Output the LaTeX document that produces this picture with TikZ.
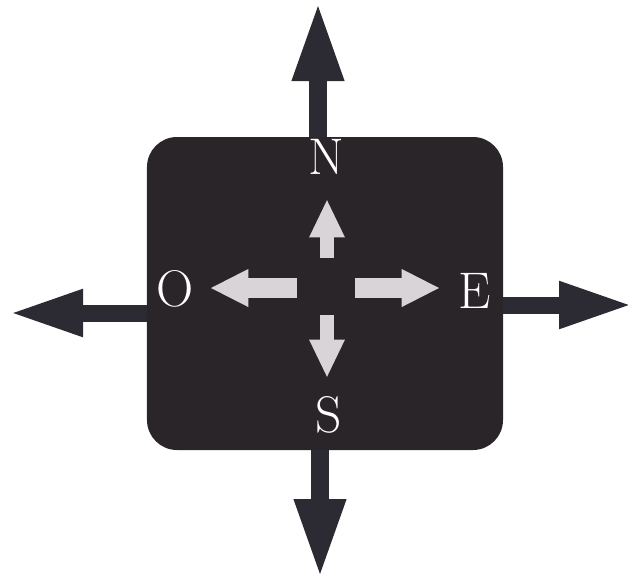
\documentclass[tikz,border=0pt]{standalone}
\usetikzlibrary{arrows.meta}
\definecolor{boxdark}{HTML}{2A2529}
\definecolor{arrowdark}{HTML}{2C2B33}
\definecolor{palegrey}{HTML}{D8D4D8}
\tikzset{
  dial/.style = {rectangle, fill=boxdark, rounded corners=0.9cm,
    minimum width=10.68cm, minimum height=9.39cm, inner sep=0pt},
  letter/.style = {text=white, font=\fontsize{44}{44}\selectfont, inner sep=0pt},
  outvert/.style = {arrowdark, line width=0.54cm, -{Triangle[length=2.4cm, width=1.41cm]}},
  outhoriz/.style = {arrowdark, line width=0.51cm, -{Triangle[length=2.25cm, width=1.28cm]}},
  invert/.style = {palegrey, line width=0.4cm, -{Triangle[length=1.15cm, width=0.98cm]}},
  inhoriz/.style = {palegrey, line width=0.6cm, -{Triangle[length=1.15cm, width=1.05cm]}}
}
\begin{document}
\begin{tikzpicture}[x=0.03cm, y=-0.03cm]
\useasboundingbox (0,0) rectangle (628,577);

% dark square
\node[dial] (dial) at (325,293.5) {};

% cardinal letters
\node[letter] (north) at (326,157) {N};
\node[letter] (south) at (329,415) {S};
\node[letter] (west) at (175,289) {O};
\node[letter] (east) at (475,291) {E};

% outer arrows
\coordinate (nTip) at (318,1);
\coordinate (sTip) at (320,579);
\coordinate (wTip) at (8,313);
\coordinate (eTip) at (634,305);
\draw[outvert] (dial.north -| nTip) -- (nTip);
\draw[outvert] (dial.south -| sTip) -- (sTip);
\draw[outhoriz] (dial.west |- wTip) -- (wTip);
\draw[outhoriz] (dial.east |- eTip) -- (eTip);

% inner arrows
\coordinate (upTail) at (327,258);
\coordinate (upTip) at (327,199);
\coordinate (downTail) at (327,315);
\coordinate (downTip) at (327,378);
\coordinate (leftTail) at (297,288);
\coordinate (leftTip) at (210,288);
\coordinate (rightTail) at (355,288);
\coordinate (rightTip) at (440,288);
\draw[invert] (upTail) -- (upTip);
\draw[invert] (downTail) -- (downTip);
\draw[inhoriz] (leftTail) -- (leftTip);
\draw[inhoriz] (rightTail) -- (rightTip);

\end{tikzpicture}
\end{document}
